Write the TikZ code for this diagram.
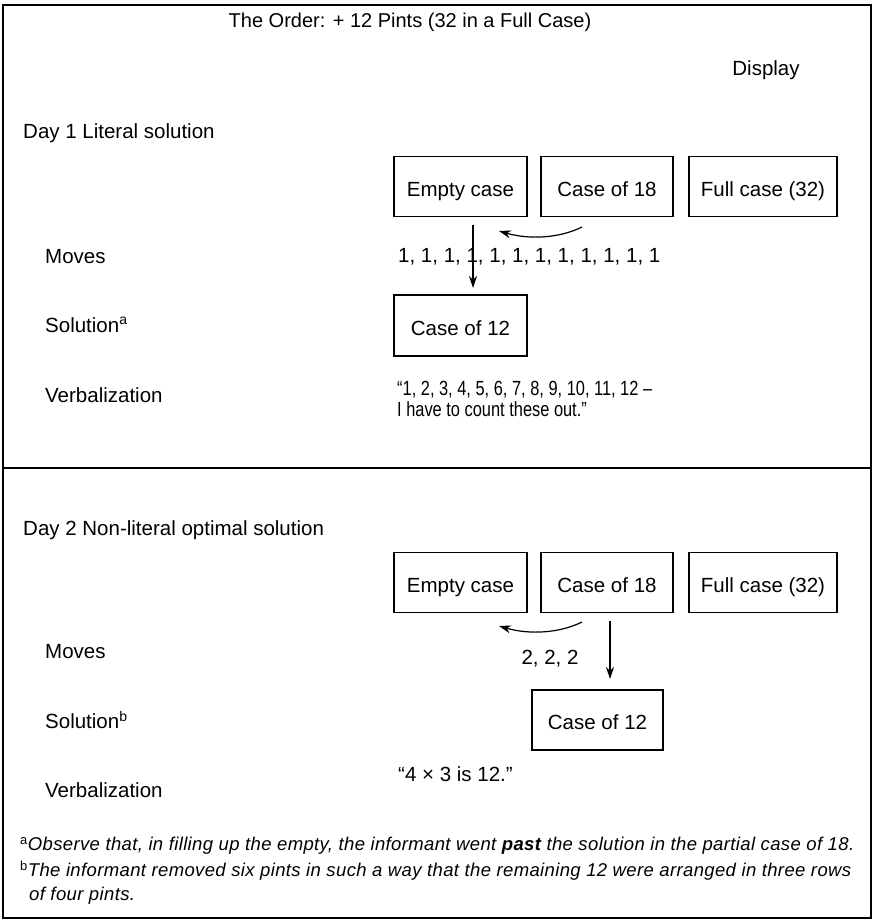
\documentclass[tikz,border=0pt]{standalone}
\usepackage{fontspec}
\setmainfont{Liberation Sans}
\newfontfamily\narrowfont[FakeStretch=0.8]{Liberation Sans}
\newfontfamily\notefont[LetterSpace=2]{Liberation Sans}
\usetikzlibrary{arrows.meta}
\tikzset{
  lbl/.style={anchor=west, inner sep=0pt, font=\fontsize{20.5}{23}\selectfont},
  casebox/.style={draw, line width=1.3pt, minimum height=60pt, inner sep=0pt, text height=19pt, text depth=0pt, font=\fontsize{20.5}{23}\selectfont},
  note/.style={anchor=west, inner sep=0pt, font=\notefont\fontsize{18.5}{21}\selectfont\itshape},
  arr/.style={line width=1.2pt, -{Stealth[length=12pt,width=8pt]}}
}
\begin{document}
\begin{tikzpicture}[x=1pt,y=-1pt]
\useasboundingbox (0,0) rectangle (874,923);
% frame
\draw[line width=1.3pt] (3,5) rectangle (871,918);
\draw[line width=1.3pt] (3,468) -- (871,468);

\node[anchor=center, inner sep=0pt, font=\fontsize{20}{23}\selectfont] (title) at (410,22) {The Order: + 12 Pints (32 in a Full Case)};
\node[anchor=center, inner sep=0pt, font=\fontsize{20.5}{23}\selectfont] (disp) at (766,70) {Display};

% Day 1
\node[lbl] (d1) at (23,133) {Day 1 Literal solution};
\node[lbl] (m1) at (45,257) {Moves};
\node[lbl] (s1) at (45,325) {Solution\textsuperscript{\fontsize{14}{14}\selectfont a}};
\node[lbl] (v1) at (45,395) {Verbalization};

\node[casebox, minimum width=133pt] (e1) at (460.5,186.5) {Empty case};
\node[casebox, minimum width=132pt] (c1) at (607,186.5) {Case of 18};
\node[casebox, minimum width=148pt] (f1) at (763,186.5) {Full case (32)};
\node[casebox, minimum width=133pt, minimum height=61pt] (r1) at (460.5,325.5) {Case of 12};

\node[lbl] (mv1) at (398,257) {1, 1, 1, 1, 1, 1, 1, 1, 1, 1, 1, 1};
\node[anchor=west, inner sep=0pt, align=left, font=\narrowfont\fontsize{20.5}{20.5}\selectfont] (q1) at (397,399) {“1, 2, 3, 4, 5, 6, 7, 8, 9, 10, 11, 12 –\\I have to count these out.”};

\coordinate (a1s) at (582,227);
\coordinate (a1e) at (499,231);
\draw[arr] (a1s) .. controls (560,238) and (530,240) .. (a1e);
\coordinate (v1s) at (473,225);
\coordinate (v1e) at (473,288);
\draw[arr] (v1s) -- (v1e);

% Day 2
\node[lbl] (d2) at (23,530) {Day 2 Non-literal optimal solution};
\node[lbl] (m2) at (45,652) {Moves};
\node[lbl] (s2) at (45,720) {Solution\textsuperscript{\fontsize{14}{14}\selectfont b}};
\node[lbl] (v2) at (45,790) {Verbalization};

\node[casebox, minimum width=133pt] (e2) at (460.5,582.5) {Empty case};
\node[casebox, minimum width=132pt] (c2) at (607,582.5) {Case of 18};
\node[casebox, minimum width=148pt] (f2) at (763,582.5) {Full case (32)};
\node[casebox, minimum width=131pt] (r2) at (597.5,720) {Case of 12};

\node[anchor=center, inner sep=0pt, font=\fontsize{20.5}{23}\selectfont] (mv2) at (550,659) {2, 2, 2};
\node[lbl] (q2) at (398,774) {“4 × 3 is 12.”};

\coordinate (a2s) at (582,622);
\coordinate (a2e) at (499,626);
\draw[arr] (a2s) .. controls (560,633) and (530,635) .. (a2e);
\coordinate (v2s) at (610,621);
\coordinate (v2e) at (610,679);
\draw[arr] (v2s) -- (v2e);

% footnotes
\node[note] (fa) at (20,846) {\textsuperscript{\upshape a}Observe that, in filling up the empty, the informant went \textbf{past} the solution in the partial case of 18.};
\node[note] (fb) at (20,871) {\textsuperscript{\upshape b}The informant removed six pints in such a way that the remaining 12 were arranged in three rows};
\node[note] (fc) at (29,896) {of four pints.};
\end{tikzpicture}
\end{document}
